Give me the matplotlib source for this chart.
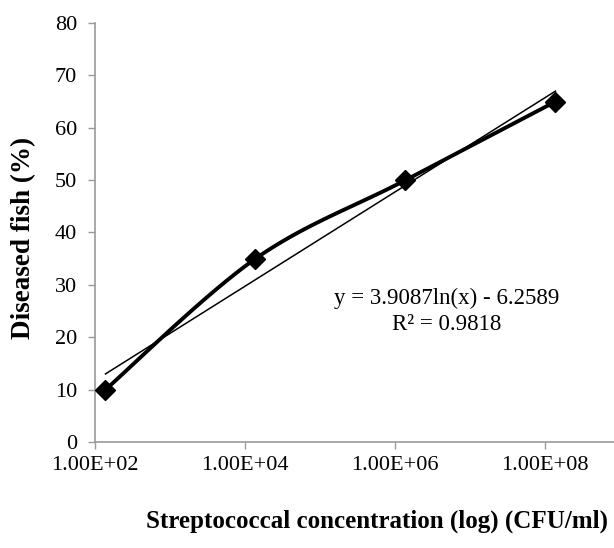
import numpy as np
import matplotlib
matplotlib.use("Agg")
import matplotlib.pyplot as plt

# data
conc = [1.38e2, 1.38e4, 1.38e6, 1.38e8]   # CFU/ml
diseased = [10, 35, 50, 65]               # %
xtick_vals = [1e2, 1e4, 1e6, 1e8]
xtick_labels = ["1.00E+02", "1.00E+04", "1.00E+06", "1.00E+08"]
yticks = [0, 10, 20, 30, 40, 50, 60, 70, 80]
eq_text = "y = 3.9087ln(x) - 6.2589"
r2_text = "R\u00b2 = 0.9818"
a_fit, b_fit = 3.9087, -6.2589

plt.rcParams["font.family"] = ["Liberation Serif", "DejaVu Serif"]


def smooth_curve(xs, ys, n=40):
    # Catmull-Rom through the points, in log10(x) space (like Excel "smoothed line")
    lx = np.log10(xs)
    ys = np.asarray(ys, dtype=float)
    px = np.concatenate([[lx[0]], lx, [lx[-1]]])
    py = np.concatenate([[ys[0]], ys, [ys[-1]]])
    out_x, out_y = [], []
    t = np.linspace(0, 1, n)
    for i in range(1, len(px) - 2):
        p0, p1, p2, p3 = px[i - 1], px[i], px[i + 1], px[i + 2]
        q0, q1, q2, q3 = py[i - 1], py[i], py[i + 1], py[i + 2]
        cx = 0.5 * ((2 * p1) + (-p0 + p2) * t + (2 * p0 - 5 * p1 + 4 * p2 - p3) * t**2
                    + (-p0 + 3 * p1 - 3 * p2 + p3) * t**3)
        cy = 0.5 * ((2 * q1) + (-q0 + q2) * t + (2 * q0 - 5 * q1 + 4 * q2 - q3) * t**2
                    + (-q0 + 3 * q1 - 3 * q2 + q3) * t**3)
        out_x.append(cx)
        out_y.append(cy)
    return 10 ** np.concatenate(out_x), np.concatenate(out_y)


fig = plt.figure(figsize=(6.14, 5.48), dpi=100)
ax = fig.add_axes([95 / 614, 106 / 548, 525 / 614, 419 / 548])

sx, sy = smooth_curve(conc, diseased)
ax.plot(sx, sy, color="black", linewidth=2.8, zorder=3)
ax.plot(conc, diseased, linestyle="none", marker="D", markersize=10.5,
        color="black", zorder=4)

# logarithmic trendline
xt = np.array([conc[0], conc[-1]])
ax.plot(xt, a_fit * np.log(xt) + b_fit, color="black", linewidth=1.1, zorder=2)

ax.set_xscale("log")
ax.set_xlim(1e2, 1e9)
ax.set_ylim(0, 80)
ax.set_xticks(xtick_vals)
ax.set_xticklabels(xtick_labels)
ax.xaxis.set_minor_locator(matplotlib.ticker.NullLocator())
ax.set_yticks(yticks)

for side in ["top", "right"]:
    ax.spines[side].set_visible(False)
for side in ["left", "bottom"]:
    ax.spines[side].set_color("#9a9a9a")
    ax.spines[side].set_linewidth(1.2)
ax.tick_params(axis="both", direction="out", length=5, width=1.0,
               color="#9a9a9a", labelsize=16, labelcolor="black")
ax.tick_params(axis="y", pad=8)
ax.tick_params(axis="x", pad=5)

fig.text(447 / 614, 1 - 298 / 548, eq_text, ha="center", va="center",
         fontsize=16.5)
fig.text(447 / 614, 1 - 324 / 548, r2_text, ha="center", va="center",
         fontsize=16.5)

fig.text(377 / 614, 1 - 521 / 548, "Streptococcal concentration (log) (CFU/ml)",
         ha="center", va="center", fontsize=18, fontweight="bold")
fig.text(24 / 614, 1 - 238 / 548, "Diseased fish (%)", rotation=90,
         ha="center", va="center", fontsize=19.5, fontweight="bold")

fig.savefig("out.png", dpi=100, facecolor="white")
